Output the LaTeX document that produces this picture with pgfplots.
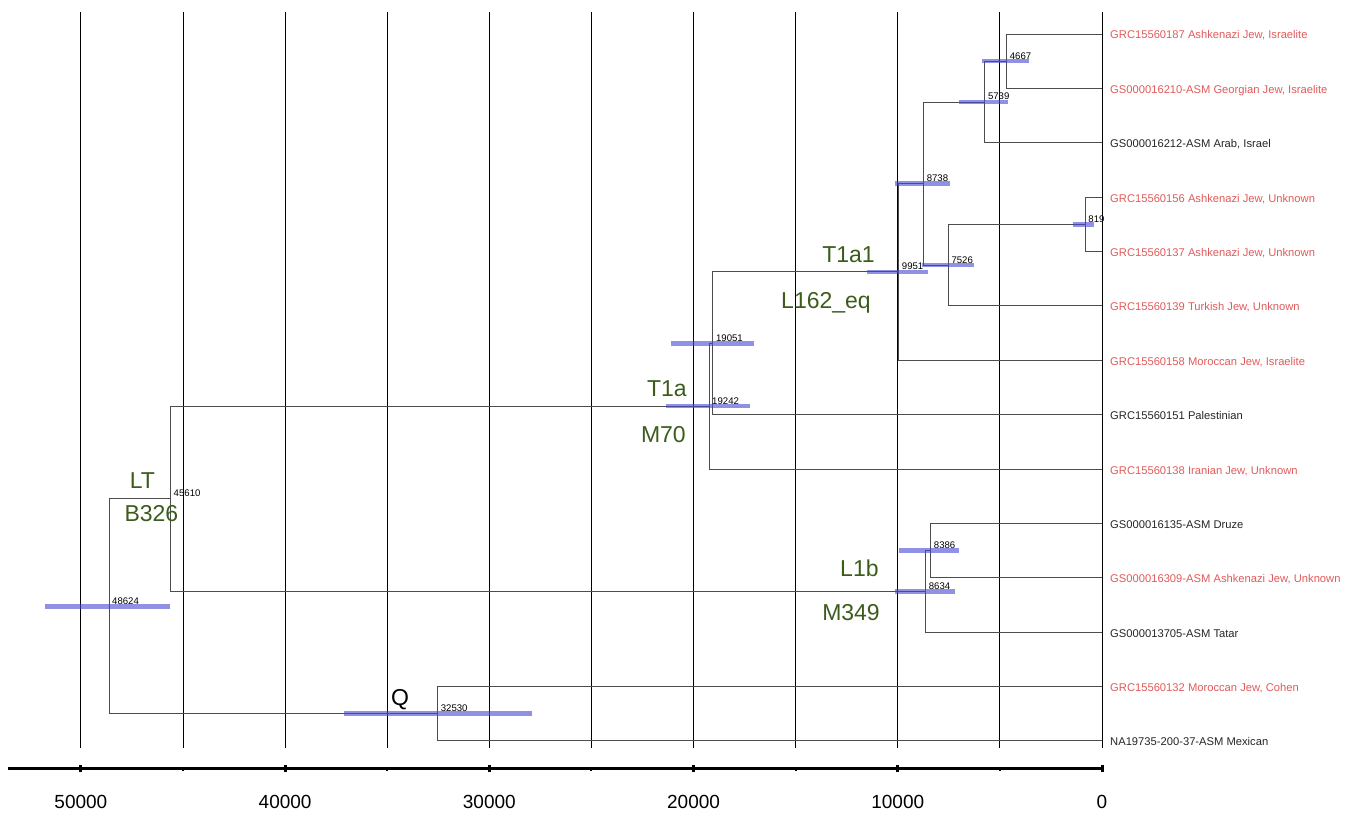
\documentclass[border=0pt]{standalone}
\usepackage{fontspec}
\setmainfont{Liberation Sans}
\usepackage{pgfplots}
\pgfplotsset{compat=1.18}

\definecolor{hapgreen}{RGB}{60,92,28}
\definecolor{leafred}{RGB}{225,90,90}
\definecolor{cibar}{RGB}{70,70,210}

\begin{document}
\begin{tikzpicture}
\begin{axis}[
  scale only axis, width=1094pt, height=757pt,
  x dir=reverse, xmin=0, xmax=53570,
  ymin=-13.516, ymax=0.4046,
  axis x line*=bottom, axis y line=none,
  x axis line style={line width=3pt},
  xtick={0,10000,20000,30000,40000,50000},
  xticklabels={0,10000,20000,30000,40000,50000},
  minor xtick={5000,15000,25000,35000,45000},
  tick align=center,
  major tick length=7pt, minor tick length=4pt,
  major tick style={line width=3pt, black},
  minor tick style={line width=2pt, black},
  xticklabel style={font=\fontsize{19}{22}\selectfont, anchor=base, yshift=-36pt},
  ytick=\empty,
  clip=false,
]
% vertical grid every 5000 years
\addplot[black, line width=1pt, unbounded coords=jump] table {
x y
0 0.4046
0 -13.13
nan nan
5000 0.4046
5000 -13.13
nan nan
10000 0.4046
10000 -13.13
nan nan
15000 0.4046
15000 -13.13
nan nan
20000 0.4046
20000 -13.13
nan nan
25000 0.4046
25000 -13.13
nan nan
30000 0.4046
30000 -13.13
nan nan
35000 0.4046
35000 -13.13
nan nan
40000 0.4046
40000 -13.13
nan nan
45000 0.4046
45000 -13.13
nan nan
50000 0.4046
50000 -13.13
};

% tree branches, one bracket per node
\addplot[black!70, line width=0.9pt, unbounded coords=jump] table {
x y
0 0
4667 0
4667 -1
0 -1
nan nan
4667 -0.5
5739 -0.5
5739 -2
0 -2
nan nan
0 -3
819 -3
819 -4
0 -4
nan nan
819 -3.5
7526 -3.5
7526 -5
0 -5
nan nan
5739 -1.25
8738 -1.25
8738 -4.25
7526 -4.25
nan nan
8738 -2.75
9951 -2.75
9951 -6
0 -6
nan nan
9951 -4.375
19051 -4.375
19051 -7
0 -7
nan nan
19051 -5.6875
19242 -5.6875
19242 -8
0 -8
nan nan
0 -9
8386 -9
8386 -10
0 -10
nan nan
8386 -9.5
8634 -9.5
8634 -11
0 -11
nan nan
19242 -6.84375
45610 -6.84375
45610 -10.25
8634 -10.25
nan nan
0 -12
32530 -12
32530 -13
0 -13
nan nan
45610 -8.546875
48624 -8.546875
48624 -12.5
32530 -12.5
};

% age intervals
\addplot[cibar, opacity=0.6, line width=4.5pt, unbounded coords=jump] table {
x y
5860 -0.5
3575 -0.5
nan nan
6988 -1.25
4588 -1.25
nan nan
10122 -2.75
7460 -2.75
nan nan
8830 -4.25
6283 -4.25
nan nan
1420 -3.5
377 -3.5
nan nan
11493 -4.375
8536 -4.375
nan nan
21106 -5.6875
17025 -5.6875
nan nan
21336 -6.84375
17252 -6.84375
nan nan
9926 -9.5
7018 -9.5
nan nan
10137 -10.25
7214 -10.25
nan nan
51762 -10.5234
45655 -10.5234
nan nan
37119 -12.5
27928 -12.5
};

% node ages
\begin{scope}[every node/.style={anchor=base west, inner sep=0pt, xshift=3pt, yshift=2pt, font=\fontsize{9.6}{11}\selectfont}]
\node at (axis cs:4667,-0.5) {4667};
\node at (axis cs:5739,-1.25) {5739};
\node at (axis cs:8738,-2.75) {8738};
\node at (axis cs:819,-3.5) {819};
\node at (axis cs:7526,-4.25) {7526};
\node at (axis cs:9951,-4.375) {9951};
\node at (axis cs:19051,-5.6875) {19051};
\node at (axis cs:19242,-6.84375) {19242};
\node at (axis cs:45610,-8.546875) {45610};
\node at (axis cs:8386,-9.5) {8386};
\node at (axis cs:8634,-10.25) {8634};
\node at (axis cs:48624,-10.5234) {48624};
\node at (axis cs:32530,-12.5) {32530};
\end{scope}

% sample names
\begin{scope}[every node/.style={anchor=base west, inner sep=0pt, xshift=8pt, yshift=-5pt, font=\fontsize{11.2}{13}\selectfont}]
\node[leafred] at (axis cs:0,0) {GRC15560187 Ashkenazi Jew, Israelite};
\node[leafred] at (axis cs:0,-1) {GS000016210-ASM Georgian Jew, Israelite};
\node[black!85] at (axis cs:0,-2) {GS000016212-ASM Arab, Israel};
\node[leafred] at (axis cs:0,-3) {GRC15560156 Ashkenazi Jew, Unknown};
\node[leafred] at (axis cs:0,-4) {GRC15560137 Ashkenazi Jew, Unknown};
\node[leafred] at (axis cs:0,-5) {GRC15560139 Turkish Jew, Unknown};
\node[leafred] at (axis cs:0,-6) {GRC15560158 Moroccan Jew, Israelite};
\node[black!85] at (axis cs:0,-7) {GRC15560151 Palestinian};
\node[leafred] at (axis cs:0,-8) {GRC15560138 Iranian Jew, Unknown};
\node[black!85] at (axis cs:0,-9) {GS000016135-ASM Druze};
\node[leafred] at (axis cs:0,-10) {GS000016309-ASM Ashkenazi Jew, Unknown};
\node[black!85] at (axis cs:0,-11) {GS000013705-ASM Tatar};
\node[leafred] at (axis cs:0,-12) {GRC15560132 Moroccan Jew, Cohen};
\node[black!85] at (axis cs:0,-13) {NA19735-200-37-ASM Mexican};
\end{scope}

% haplogroup labels
\begin{scope}[every node/.style={inner sep=0pt, text=hapgreen, font=\fontsize{23}{26}\selectfont}]
\node[anchor=base east] at (axis cs:11116,-4.193) {T1a1};
\node[anchor=base east] at (axis cs:11312,-5.057) {L162\_eq};
\node[anchor=base east] at (axis cs:20323,-6.657) {T1a};
\node[anchor=base east] at (axis cs:20372,-7.521) {M70};
\node[anchor=base] at (axis cs:46987,-8.349) {LT};
\node[anchor=base] at (axis cs:46546,-8.974) {B326};
\node[anchor=base east] at (axis cs:10929,-9.985) {L1b};
\node[anchor=base east] at (axis cs:10871,-10.794) {M349};
\node[anchor=base, text=black] at (axis cs:34377,-12.357) {Q};
\end{scope}
\end{axis}
\pgfresetboundingbox
\path ([shift={(-8pt,-48pt)}]current axis.south west) rectangle ([shift={(254pt,12pt)}]current axis.north east);
\end{tikzpicture}
\end{document}
